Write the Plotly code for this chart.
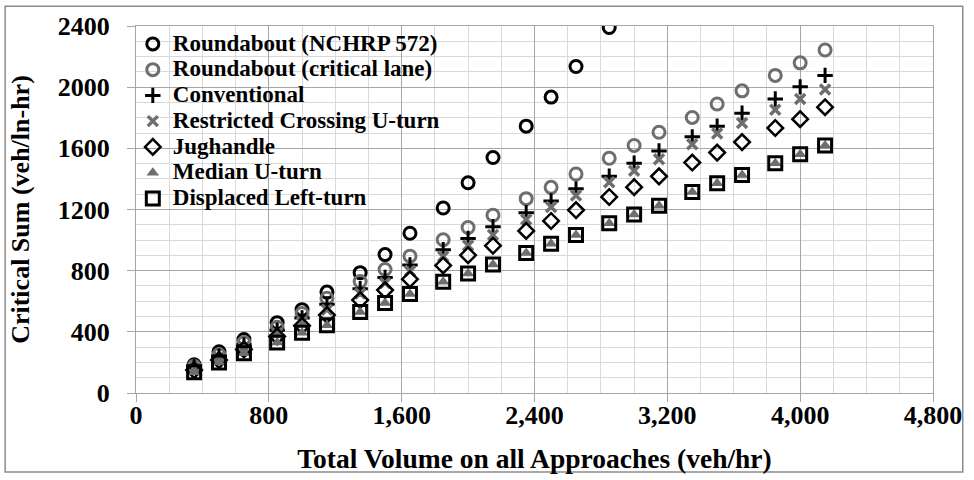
import plotly.graph_objects as go

# ---- data ----
volume = [350, 500, 650, 850, 1000, 1150, 1350, 1500, 1650, 1850, 2000, 2150,
          2350, 2500, 2650, 2850, 3000, 3150, 3350, 3500, 3650, 3850, 4000, 4150]

roundabout_nchrp = [185, 270, 350, 460, 545, 660, 787, 905, 1045, 1210, 1375, 1540,
                    1745, 1935, 2135, 2390]
roundabout_crit = [175, 250, 330, 430, 520, 620, 729, 808, 895, 1002, 1082, 1163,
                   1271, 1345, 1432, 1535, 1619, 1705, 1802, 1890, 1976, 2077, 2159, 2243]
conventional = [170, 240, 315, 410, 490, 580, 682, 755, 837, 937, 1011, 1088,
                1179, 1256, 1335, 1417, 1503, 1583, 1675, 1744, 1830, 1923, 2002, 2077]
rcut = [165, 230, 300, 390, 465, 545, 650, 720, 798, 893, 965, 1034,
        1135, 1217, 1292, 1378, 1454, 1529, 1626, 1697, 1766, 1852, 1923, 1985]
jughandle = [150, 215, 285, 370, 440, 510, 608, 673, 744, 834, 901, 963,
             1060, 1125, 1196, 1282, 1346, 1417, 1507, 1572, 1641, 1733, 1791, 1869]
median_uturn = [135, 200, 260, 331, 394, 443, 529, 589, 647, 727, 781, 841,
                916, 976, 1034, 1110, 1168, 1224, 1314, 1372, 1426, 1503, 1561, 1619]
displaced_lt = [135, 200, 260, 331, 394, 443, 529, 589, 647, 727, 781, 841,
                916, 976, 1034, 1110, 1168, 1224, 1314, 1372, 1426, 1503, 1561, 1619]

x_ticks = [0, 800, 1600, 2400, 3200, 4000, 4800]
y_ticks = [0, 400, 800, 1200, 1600, 2000, 2400]

FONT = "Liberation Serif"
GRAY = "#6e6e6e"
GRID = "#a6a6a6"
MINOR = "#d9d9d9"

fig = go.Figure()


def lab(t):
    return ('<span style="font-family:Liberation Serif;font-weight:bold;font-size:23px">'
            + t + '</span>')


def add(name, y, symbol, color, size, lw):
    fig.add_trace(go.Scatter(
        x=volume[:len(y)], y=y, mode="markers", name=lab(name),
        marker=dict(symbol=symbol, color=color, size=size,
                    line=dict(color=color, width=lw)),
    ))


add("Roundabout (NCHRP 572)", roundabout_nchrp, "circle-open", "black", 12, 3)
add("Roundabout (critical lane)", roundabout_crit, "circle-open", GRAY, 12, 3)
add("Conventional", conventional, "cross-thin-open", "black", 11, 3)
add("Restricted Crossing U-turn", rcut, "x-thin-open", GRAY, 10, 3.5)
add("Jughandle", jughandle, "diamond-open", "black", 12, 2.5)
add("Median U-turn", median_uturn, "triangle-up", GRAY, 11, 0)
add("Displaced Left-turn", displaced_lt, "square-open", "black", 13, 3)

tickfont = dict(family=FONT, size=26, color="black", weight="bold")
ytitlefont = dict(family=FONT, size=26, color="black", weight="bold")
xtitlefont = dict(family=FONT, size=27.5, color="black", weight="bold")

fig.update_layout(
    width=974, height=480,
    margin=dict(l=136, r=34, t=25, b=83),
    paper_bgcolor="white", plot_bgcolor="white",
    showlegend=True,
    legend=dict(
        x=-0.004, y=1.0, xanchor="left", yanchor="top",
        bgcolor="rgba(0,0,0,0)", borderwidth=0,
        font=dict(family=FONT, size=17.5, color="black", weight="bold"),
        itemwidth=30,
    ),
    xaxis=dict(
        range=[0, 4800], tickmode="array", tickvals=x_ticks,
        tickformat=",", tickfont=tickfont,
        showgrid=True, gridcolor=GRID, gridwidth=1,
        minor=dict(dtick=200, tick0=0, showgrid=True, gridcolor=MINOR, ticks=""),
        showline=True, linecolor=GRID, linewidth=1, mirror=True,
        ticks="outside", ticklen=8, tickcolor=GRID,
        zeroline=False, ticklabelstandoff=-9,
        title=dict(text="Total Volume on all Approaches (veh/hr)", font=xtitlefont, standoff=19),
    ),
    yaxis=dict(
        range=[0, 2400], tickmode="array", tickvals=y_ticks,
        tickformat="d", tickfont=tickfont,
        showgrid=True, gridcolor=GRID, gridwidth=1,
        minor=dict(dtick=100, tick0=0, showgrid=True, gridcolor=MINOR, ticks=""),
        showline=True, linecolor=GRID, linewidth=1, mirror=True,
        ticks="outside", ticklen=8, tickcolor=GRID,
        zeroline=False, ticklabelstandoff=12,
        title=dict(text="Critical Sum (veh/ln-hr)", font=ytitlefont, standoff=20),
    ),
    shapes=[dict(type="rect", xref="paper", yref="paper",
                 x0=(4 - 136) / 804, x1=(970 - 136) / 804,
                 y0=(397 - 477) / 372, y1=(397 - 5) / 372,
                 line=dict(color="#8c8c8c", width=1.5), fillcolor="rgba(0,0,0,0)",
                 layer="below")],
)

fig.write_html("out.html", config={"displayModeBar": False},
               post_script="document.body.style.margin='0';")
